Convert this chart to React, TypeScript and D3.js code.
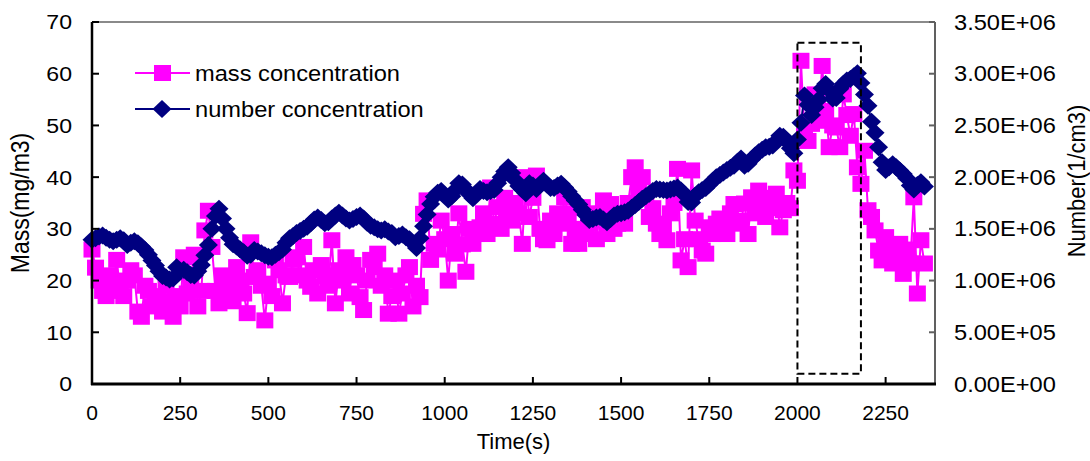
import React, { useEffect, useRef } from 'react';
import * as d3 from 'd3';

// sampling interval of both series (s)
const timeStep = 10;

// mass concentration (mg/m3), one value every 10 s
const massConc = [
    26, 22.5, 20, 18, 17, 21, 19, 24, 18, 17,
    20, 22, 21, 14, 13, 19, 18, 15, 17, 16,
    14, 19, 16, 13, 17, 15, 24.5, 17.5, 20, 25,
    15, 18, 29.7, 33.5, 26.5, 18, 15.6, 21, 20.7, 18,
    16, 22.6, 20, 17.5, 13.7, 27.4, 20.7, 22, 19, 12.3,
    19.4, 17, 23.9, 22, 15.6, 21, 20.7, 24, 24.5, 21,
    26.5, 20, 18.8, 22, 17.5, 23, 21, 19, 27.8, 15.6,
    22, 20, 24.5, 17.5, 23, 21, 16.8, 14.3, 20, 24,
    22.6, 25.2, 19, 21, 13.6, 17, 20, 13.6, 17.5, 21,
    22.6, 15, 19, 16.8, 32.9, 35.5, 24, 27.1, 26, 31.6,
    28, 20, 29, 25.2, 33, 27, 21.7, 30, 27.1, 29,
    30.3, 33, 29, 38, 31, 34.2, 30, 36, 32, 31.6,
    35, 33, 27.1, 40, 32.3, 36, 40.3, 30, 28, 27.8,
    31.6, 29, 33, 31, 36.1, 33, 27.1, 30, 27.1, 34.2,
    29, 31, 33, 28, 32.9, 35.5, 29, 34.8, 30, 31,
    33, 31, 35, 40, 41.9, 37, 40, 36, 32.3, 34,
    31, 29, 30, 27.8, 33, 35, 41.6, 23.9, 28, 22.6,
    41.3, 31.6, 28, 25.8, 25.2, 30.3, 29, 31, 32, 30,
    29, 33, 34.8, 31, 31.6, 34.9, 29, 36.1, 33, 37.4,
    35, 32.3, 34, 36, 36.8, 30.3, 33.6, 35, 34, 41.3,
    39.3, 62.5, 48, 47, 50.3, 56, 50.9, 61.5, 52.8, 45.8,
    50, 49.6, 45.8, 56, 52, 48, 52.2, 41.9, 38.7, 45.1,
    33.6, 32.3, 29.7, 25.8, 23.9, 28.4, 26, 23.3, 24, 27.1,
    21.3, 26, 23.3, 36.1, 17.5, 27.8, 23.3,
];

// number concentration (x 1E+06 1/cm3), one value every 10 s
const numberConc = [
    1.395, 1.41, 1.425, 1.435, 1.415, 1.395, 1.38, 1.395, 1.41, 1.39,
    1.345, 1.365, 1.38, 1.36, 1.33, 1.295, 1.25, 1.195, 1.145, 1.09,
    1.045, 1.03, 1.01, 1.02, 1.13, 1.095, 1.105, 1.08, 1.055, 1.05,
    1.09, 1.15, 1.245, 1.345, 1.5, 1.625, 1.695, 1.6, 1.5, 1.415,
    1.35, 1.33, 1.3, 1.275, 1.24, 1.25, 1.295, 1.28, 1.265, 1.245,
    1.23, 1.225, 1.25, 1.275, 1.3, 1.365, 1.41, 1.43, 1.46, 1.48,
    1.5, 1.52, 1.555, 1.59, 1.61, 1.585, 1.555, 1.565, 1.6, 1.63,
    1.655, 1.63, 1.6, 1.58, 1.595, 1.615, 1.63, 1.6, 1.56, 1.53,
    1.515, 1.495, 1.485, 1.495, 1.475, 1.46, 1.42, 1.43, 1.445, 1.42,
    1.4, 1.36, 1.315, 1.41, 1.525, 1.64, 1.74, 1.81, 1.85, 1.865,
    1.825, 1.785, 1.815, 1.875, 1.94, 1.93, 1.88, 1.835, 1.795, 1.84,
    1.885, 1.865, 1.855, 1.865, 1.875, 1.94, 2.0, 2.055, 2.095, 2.04,
    1.97, 1.915, 1.88, 1.845, 1.94, 1.92, 1.885, 1.93, 1.965, 1.93,
    1.895, 1.895, 1.92, 1.935, 1.9, 1.86, 1.815, 1.775, 1.735, 1.685,
    1.635, 1.585, 1.595, 1.61, 1.615, 1.59, 1.565, 1.595, 1.63, 1.645,
    1.65, 1.66, 1.675, 1.705, 1.73, 1.76, 1.79, 1.815, 1.84, 1.865,
    1.885, 1.88, 1.875, 1.87, 1.88, 1.89, 1.9, 1.87, 1.83, 1.76,
    1.755, 1.82, 1.855, 1.875, 1.895, 1.93, 1.965, 2.0, 2.02, 2.045,
    2.07, 2.09, 2.11, 2.15, 2.18, 2.11, 2.13, 2.17, 2.21, 2.24,
    2.265, 2.29, 2.295, 2.305, 2.35, 2.4, 2.39, 2.345, 2.28, 2.23,
    2.365, 2.525, 2.79, 2.7, 2.6, 2.675, 2.75, 2.86, 2.9, 2.84,
    2.76, 2.765, 2.855, 2.9, 2.935, 2.95, 2.975, 3.005, 2.91, 2.8,
    2.69, 2.535, 2.43, 2.29, 2.145, 2.07, 2.095, 2.125, 2.095, 2.065,
    2.03, 1.99, 1.92, 1.88, 1.925, 1.95, 1.91,
];

const timeTicks = [0, 250, 500, 750, 1000, 1250, 1500, 1750, 2000, 2250];
const massTicks = [0, 10, 20, 30, 40, 50, 60, 70];
const numberTicks = [0, 5e5, 1e6, 1.5e6, 2e6, 2.5e6, 3e6, 3.5e6];

// dashed box round the peak: time range and mass range
const boxTime = [2000, 2180];
const boxMass = [2, 66];

const W = 1090;
const H = 461;
const font = 'Liberation Sans, Arial, sans-serif';
const MAGENTA = '#ff00ff';
const NAVY = '#000080';
// the source picture is slightly wider than tall; text is widened to match
const SX = 1.1;

const sciFormat = v => {
    if (v === 0) return '0.00E+00';
    const e = Math.floor(Math.log10(v));
    const m = v / Math.pow(10, e);
    return `${m.toFixed(2)}E+${String(e).padStart(2, '0')}`;
};

const diamond = (w, h) => `M0,${-h}L${w},0L0,${h}L${-w},0Z`;

const App = () => {
    const ref = useRef<SVGSVGElement>(null);

    useEffect(() => {
        const svg = d3.select(ref.current);
        svg.selectAll('*').remove();

        const x = d3.scaleLinear().domain([0, 2390]).range([92, 935]);
        const yL = d3.scaleLinear().domain([0, 70]).range([384, 22]);
        const yR = d3.scaleLinear().domain([0, 3.5e6]).range([384, 22]);

        const mass = massConc.map((v, i) => ({ t: i * timeStep, v }));
        const num = numberConc.map((v, i) => ({ t: i * timeStep, v: v * 1e6 }));

        const g = svg.append('g').style('font-family', font);

        const wideText = (px, py, size, anchor, label, rotate = false) =>
            g.append('text')
                .attr('transform', `translate(${px},${py}) scale(${SX},1)${rotate ? ' rotate(-90)' : ''}`)
                .attr('text-anchor', anchor)
                .attr('dy', rotate ? null : '0.35em')
                .attr('font-size', size)
                .text(label);

        // frame: grey top + right axis
        g.append('line')
            .attr('x1', x(0)).attr('x2', x(2390))
            .attr('y1', yL(70)).attr('y2', yL(70))
            .attr('stroke', '#8a8a8a').attr('stroke-width', 2);
        g.append('line')
            .attr('x1', x(2390)).attr('x2', x(2390))
            .attr('y1', yR(0)).attr('y2', yR(3.5e6))
            .attr('stroke', '#606060').attr('stroke-width', 2);

        // series: mass first, number on top
        g.append('path')
            .datum(mass)
            .attr('fill', 'none')
            .attr('stroke', MAGENTA)
            .attr('stroke-width', 2)
            .attr('d', d3.line().x(d => x(d.t)).y(d => yL(d.v)));
        g.append('g')
            .selectAll('rect')
            .data(mass)
            .enter()
            .append('rect')
            .attr('x', d => x(d.t) - 8.5)
            .attr('y', d => yL(d.v) - 8)
            .attr('width', 17)
            .attr('height', 16)
            .attr('fill', MAGENTA);

        g.append('path')
            .datum(num)
            .attr('fill', 'none')
            .attr('stroke', NAVY)
            .attr('stroke-width', 2)
            .attr('d', d3.line().x(d => x(d.t)).y(d => yR(d.v)));
        g.append('g')
            .selectAll('path')
            .data(num)
            .enter()
            .append('path')
            .attr('transform', d => `translate(${x(d.t)},${yR(d.v)})`)
            .attr('d', diamond(9.5, 9))
            .attr('fill', NAVY);

        // highlight box
        g.append('rect')
            .attr('x', x(boxTime[0]))
            .attr('y', yL(boxMass[1]))
            .attr('width', x(boxTime[1]) - x(boxTime[0]))
            .attr('height', yL(boxMass[0]) - yL(boxMass[1]))
            .attr('fill', 'none')
            .attr('stroke', '#000')
            .attr('stroke-width', 2)
            .attr('stroke-dasharray', '7,4');

        // left axis
        g.append('line')
            .attr('x1', x(0)).attr('x2', x(0))
            .attr('y1', yL(0) + 1).attr('y2', yL(70))
            .attr('stroke', '#000').attr('stroke-width', 2.5);
        massTicks.forEach(t => {
            g.append('line')
                .attr('x1', x(0)).attr('x2', x(0) + 7)
                .attr('y1', yL(t)).attr('y2', yL(t))
                .attr('stroke', '#000').attr('stroke-width', 2);
            wideText(72, yL(t), 21, 'end', t);
        });

        // right axis ticks
        numberTicks.forEach(t => {
            g.append('line')
                .attr('x1', x(2390) - 6).attr('x2', x(2390))
                .attr('y1', yR(t)).attr('y2', yR(t))
                .attr('stroke', '#606060').attr('stroke-width', 2);
            wideText(954, yR(t), 21.5, 'start', sciFormat(t));
        });

        // bottom axis
        g.append('line')
            .attr('x1', x(0) - 1).attr('x2', x(2390) + 1)
            .attr('y1', yL(0)).attr('y2', yL(0))
            .attr('stroke', '#000').attr('stroke-width', 3);
        timeTicks.forEach(t => {
            g.append('line')
                .attr('x1', x(t)).attr('x2', x(t))
                .attr('y1', yL(0)).attr('y2', yL(0) - 7)
                .attr('stroke', '#000').attr('stroke-width', 2);
            g.append('text')
                .attr('x', x(t)).attr('y', 420)
                .attr('text-anchor', 'middle')
                .attr('font-size', 21)
                .text(t);
        });

        // axis titles
        wideText(29, (yL(0) + yL(70)) / 2, 23, 'middle', 'Mass(mg/m3)', true);
        wideText(1085, 181, 22, 'middle', 'Number(1/cm3)', true);
        g.append('text')
            .attr('x', (x(0) + x(2390)) / 2)
            .attr('y', 449)
            .attr('text-anchor', 'middle')
            .attr('font-size', 22)
            .text('Time(s)');

        // legend
        [
            { label: 'mass concentration', color: MAGENTA, y: 73, shape: 'square' },
            { label: 'number concentration', color: NAVY, y: 109, shape: 'diamond' },
        ].forEach(d => {
            g.append('line')
                .attr('x1', 135).attr('x2', 190)
                .attr('y1', d.y).attr('y2', d.y)
                .attr('stroke', d.color).attr('stroke-width', 2);
            if (d.shape === 'square') {
                g.append('rect')
                    .attr('x', 154).attr('y', d.y - 8)
                    .attr('width', 17).attr('height', 16)
                    .attr('fill', d.color);
            } else {
                g.append('path')
                    .attr('transform', `translate(162,${d.y})`)
                    .attr('d', diamond(9.5, 9))
                    .attr('fill', d.color);
            }
            wideText(195, d.y, 21.5, 'start', d.label);
        });
    }, []);

    return (
        <svg
            ref={ref}
            width={W}
            height={H}
            style={{ position: 'absolute', left: 0, top: 0, background: '#fff' }}
        />
    );
};

export default App;
